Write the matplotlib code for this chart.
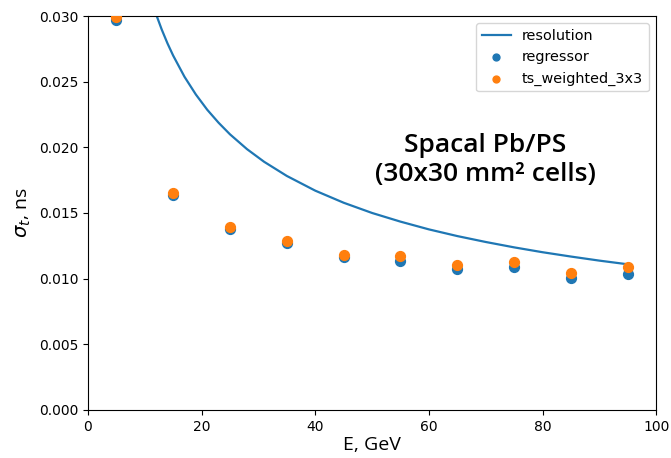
import numpy as np
import matplotlib
matplotlib.use("Agg")
import matplotlib.pyplot as plt

# --- energy points (GeV) and time resolution (ns) ---
energy = [5, 15, 25, 35, 45, 55, 65, 75, 85, 95]
sigma_regressor = [0.0297, 0.0164, 0.0138, 0.0127, 0.01167, 0.01137, 0.01071, 0.01091, 0.01008, 0.01033]
sigma_ts_weighted = [0.0299, 0.0165, 0.0139, 0.0129, 0.01178, 0.01173, 0.01107, 0.01127, 0.01041, 0.01087]

# resolution curve, read point by point
res_energy = [10, 12, 13, 14, 15, 17, 19, 21, 23, 25, 28, 31, 35, 40, 45,
              50, 55, 60, 65, 70, 75, 80, 85, 90, 95]
res_sigma = [0.03298, 0.03013, 0.02896, 0.02792, 0.02699, 0.02537, 0.02402,
             0.02286, 0.02187, 0.02099, 0.01986, 0.01890, 0.01782, 0.01670,
             0.01578, 0.01500, 0.01434, 0.01375, 0.01324, 0.01279, 0.01238,
             0.01201, 0.01168, 0.01137, 0.01109]

BLUE = "#1f77b4"
ORANGE = "#ff7f0e"

fig = plt.figure(figsize=(6.71, 4.58), dpi=100)
ax = fig.add_axes([0.131, 0.105, 0.847, 0.860])

ax.plot(res_energy, res_sigma, color=BLUE, lw=1.6, label="resolution")
ax.scatter(energy, sigma_regressor, s=50, color=BLUE, label="regressor", zorder=3)
ax.scatter(energy, sigma_ts_weighted, s=50, color=ORANGE, label="ts_weighted_3x3", zorder=4)

ax.set_xlim(0, 100)
ax.set_ylim(0, 0.030)
ax.set_xticks([0, 20, 40, 60, 80, 100])
ax.set_yticks(np.arange(0, 0.0301, 0.005))
ax.yaxis.set_major_formatter(matplotlib.ticker.FormatStrFormatter("%.3f"))
ax.tick_params(labelsize=10)

ax.set_xlabel("E, GeV", fontsize=14, family="Open Sans", labelpad=2)
ax.set_ylabel(r"$\sigma_t$, ns", fontsize=14, family="Open Sans")

ax.text(0.699, 0.635, "Spacal Pb/PS\n(30x30 mm² cells)", transform=ax.transAxes,
        ha="center", va="center", fontsize=19, family="Open Sans",
        fontweight="semibold", linespacing=1.2)

ax.legend(loc="upper right", fontsize=10.4, markerscale=0.7)

fig.savefig("out.png", dpi=100)
